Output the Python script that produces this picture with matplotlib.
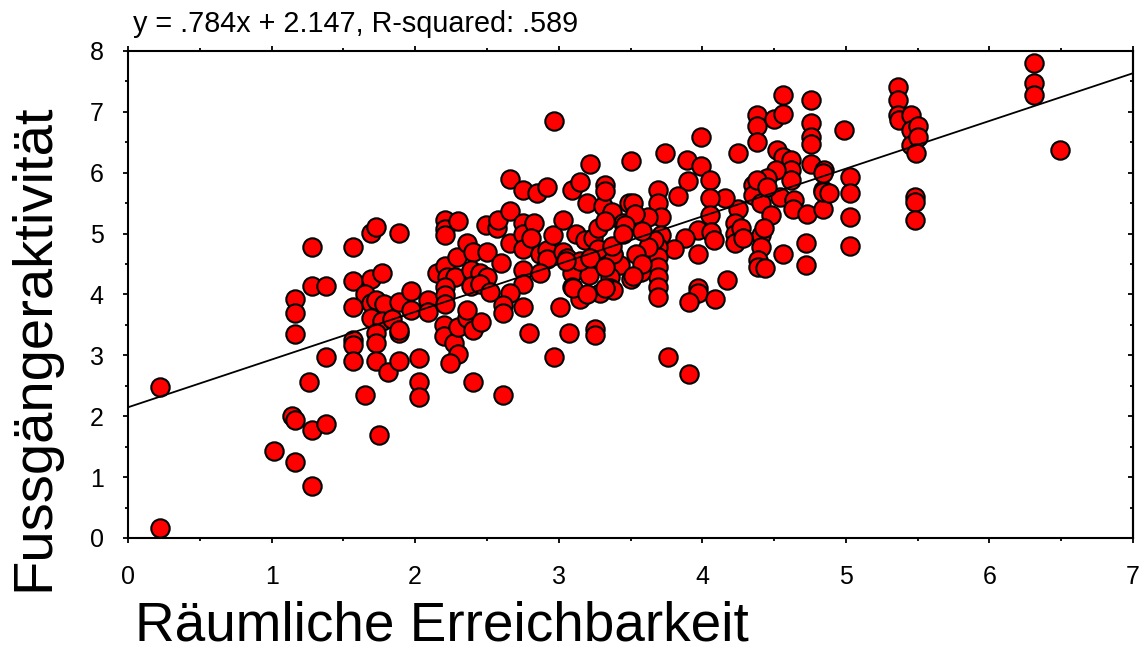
import matplotlib
matplotlib.use("Agg")
import matplotlib.pyplot as plt
import numpy as np

plt.rcParams['font.family'] = ['Liberation Sans', 'DejaVu Sans']

# ---- data ----
x_vals = [
    0.22, 0.22, 1.02, 1.16, 1.16, 1.16, 1.14, 1.16, 1.16, 1.28, 1.28, 1.38, 1.38, 1.26, 1.28, 1.38, 1.28,
    1.57, 1.69, 1.73, 1.885, 1.57, 1.69, 1.77, 1.65, 1.57, 1.69, 1.73, 1.78, 1.69, 1.77, 1.84, 1.89,
    1.73, 1.73, 1.89, 1.57, 1.57, 1.57, 1.73, 1.81, 1.89, 1.65, 1.75, 1.89, 1.97, 1.97, 2.03, 2.03,
    2.03, 2.09, 2.09, 2.21, 2.21, 2.21, 2.30, 2.15, 2.21, 2.22, 2.28, 2.21, 2.21, 2.21, 2.29, 2.36,
    2.40, 2.50, 2.39, 2.45, 2.50, 2.39, 2.45, 2.52, 2.60, 2.49, 2.57, 2.58, 2.66, 2.66, 2.75, 2.85,
    2.92, 2.66, 2.75, 2.75, 2.75, 2.75, 2.75, 2.83, 2.81, 2.66, 2.61, 2.61, 2.75, 2.20, 2.20, 2.27,
    2.30, 2.24, 2.30, 2.36, 2.36, 2.40, 2.46, 2.40, 2.61, 2.79, 2.97, 3.01, 3.07, 3.25, 3.25, 2.87,
    2.92, 2.92, 2.87, 2.96, 3.03, 3.03, 3.06, 3.09, 3.09, 3.15, 3.12, 3.18, 3.21, 3.21, 3.29, 3.24,
    3.38, 3.43, 3.36, 3.36, 3.22, 3.09, 3.15, 3.32, 3.20, 3.31, 3.32, 3.37, 3.45, 3.50, 3.49, 2.97,
    3.74, 3.99, 3.89, 3.99, 4.25, 4.38, 4.38, 4.38, 4.50, 4.56, 4.56, 4.76, 4.76, 4.76, 4.76, 4.76,
    4.52, 4.56, 4.62, 4.62, 4.62, 4.51, 4.45, 4.35, 4.35, 4.41, 4.54, 4.64, 4.63, 4.73, 4.84, 4.84,
    4.85, 4.48, 4.41, 4.41, 4.39, 4.39, 4.44, 4.56, 4.72, 4.72, 4.25, 4.23, 4.23, 4.27, 4.23, 4.28,
    4.16, 4.05, 4.05, 4.05, 3.97, 4.06, 4.08, 3.90, 3.83, 3.97, 3.88, 3.80, 4.17, 3.97, 3.97, 3.91,
    4.09, 3.76, 3.91, 3.69, 3.69, 3.71, 3.71, 3.69, 3.69, 3.69, 3.69, 3.69, 3.69, 3.62, 3.66, 3.62,
    3.54, 3.57, 3.50, 3.52, 3.53, 3.46, 3.38, 3.38, 4.43, 4.38, 4.45, 5.36, 5.36, 5.36, 5.37, 5.45,
    5.45, 5.50, 5.45, 5.50, 5.49, 4.99, 5.03, 5.03, 5.03, 5.03, 5.48, 5.48, 5.48, 4.84, 4.84, 4.88,
    6.31, 6.31, 6.31, 6.49, 3.27, 3.27, 3.15, 3.22, 3.32, 3.32, 3.37, 3.45, 3.58, 3.58, 3.10, 3.20,
    3.32, 3.52, 3.05,
]
y_vals = [
    2.48, 0.16, 1.43, 3.92, 3.69, 3.35, 2.00, 1.94, 1.25, 4.78, 4.14, 4.14, 2.97, 2.56, 1.77, 1.87, 0.86,
    4.78, 5.01, 5.11, 5.01, 4.22, 4.26, 4.36, 4.00, 3.79, 3.86, 3.91, 3.85, 3.62, 3.56, 3.59, 3.88,
    3.37, 3.21, 3.37, 3.26, 3.17, 2.91, 2.91, 2.73, 2.91, 2.35, 1.69, 3.42, 4.06, 3.74, 2.96, 2.57,
    2.31, 3.91, 3.72, 5.22, 5.08, 4.98, 5.20, 4.36, 4.46, 4.29, 4.28, 4.13, 3.99, 3.85, 4.62, 4.84,
    4.70, 4.70, 4.41, 4.35, 4.28, 4.14, 4.18, 4.04, 4.52, 5.14, 5.09, 5.22, 5.37, 5.89, 5.71, 5.67,
    5.77, 4.84, 5.17, 5.00, 4.74, 4.40, 4.18, 5.17, 4.92, 4.02, 3.83, 3.69, 3.80, 3.50, 3.31, 3.20,
    3.03, 2.87, 3.47, 3.61, 3.74, 3.42, 3.55, 2.57, 2.35, 3.36, 2.97, 3.80, 3.36, 3.44, 3.33, 4.67,
    4.73, 4.59, 4.35, 4.98, 5.22, 4.70, 4.60, 4.35, 4.13, 3.92, 5.00, 4.89, 4.43, 4.32, 4.02, 4.92,
    4.65, 4.48, 4.29, 4.10, 6.15, 5.71, 5.85, 5.80, 5.50, 5.45, 5.70, 5.36, 5.17, 6.20, 5.50, 6.85,
    6.33, 6.59, 6.21, 6.11, 6.32, 6.95, 6.77, 6.51, 6.89, 6.97, 7.27, 7.20, 6.81, 6.59, 6.47, 6.15,
    6.37, 6.26, 6.21, 6.04, 5.88, 6.05, 5.91, 5.80, 5.63, 5.50, 5.60, 5.55, 5.41, 5.32, 5.41, 5.71,
    6.04, 5.30, 4.98, 4.78, 4.56, 4.45, 4.43, 4.66, 4.84, 4.48, 5.41, 5.17, 5.00, 5.09, 4.84, 4.92,
    5.58, 5.88, 5.58, 5.30, 5.06, 5.03, 4.89, 5.86, 5.62, 4.66, 4.92, 4.74, 4.24, 4.10, 4.02, 3.88,
    3.92, 2.97, 2.69, 5.71, 5.50, 5.28, 4.98, 4.78, 4.62, 4.45, 4.29, 4.13, 3.96, 5.28, 4.90, 4.78,
    4.67, 4.37, 4.26, 5.50, 5.33, 5.14, 4.67, 4.07, 5.10, 5.88, 5.77, 7.41, 7.20, 6.95, 6.86, 6.95,
    6.71, 6.77, 6.45, 6.58, 6.32, 6.71, 5.93, 5.66, 5.28, 4.79, 5.60, 5.52, 5.23, 5.99, 5.69, 5.66,
    7.80, 7.47, 7.27, 6.37, 5.10, 4.75, 4.55, 4.60, 4.45, 5.20, 4.80, 5.00, 5.05, 4.50, 4.10, 4.00,
    4.10, 4.30, 4.55,
]
slope = 0.784
intercept = 2.147
title_text = "y = .784x + 2.147, R-squared: .589"
x_label = "Räumliche Erreichbarkeit"
y_label = "Fussgängeraktivität"
x_ticks = [0, 1, 2, 3, 4, 5, 6, 7]
y_ticks = [0, 1, 2, 3, 4, 5, 6, 7, 8]

fig = plt.figure(figsize=(11.4, 6.51), dpi=100)
ax = fig.add_axes([0.1123, 0.1736, 0.8816, 0.7481])

ax.scatter(x_vals, y_vals, s=175, facecolor='#ff0000', edgecolor='black',
           linewidth=1.5, zorder=2, clip_on=False)
line_x = np.array([x_ticks[0], x_ticks[-1]])
ax.plot(line_x, slope * line_x + intercept, color='black', linewidth=1.3, zorder=3)

ax.set_xlim(0, 7)
ax.set_ylim(0, 8)
ax.set_xticks(x_ticks)
ax.set_yticks(y_ticks)
ax.set_xticks(np.arange(0.5, 7, 1.0), minor=True)
ax.set_yticks(np.arange(0.5, 8, 1.0), minor=True)

for sp in ax.spines.values():
    sp.set_linewidth(1.5)

ax.tick_params(axis='x', which='both', direction='out', top=True, bottom=True,
               width=1.3, labelsize=18, pad=16)
ax.tick_params(axis='x', which='major', length=3.5)
ax.tick_params(axis='x', which='minor', length=2.2)
ax.tick_params(axis='y', which='both', direction='out', left=True, right=False,
               width=1.3, labelsize=18, pad=14)
ax.tick_params(axis='y', which='major', length=3.5)
ax.tick_params(axis='y', which='minor', length=2.2)

sec = ax.secondary_yaxis('right')
sec.set_yticks(y_ticks)
sec.set_yticks(np.arange(0.5, 8, 1.0), minor=True)
sec.tick_params(axis='y', which='both', direction='in', width=1.3, labelright=False)
sec.tick_params(axis='y', which='major', length=3.5)
sec.tick_params(axis='y', which='minor', length=2.2)
sec.spines['right'].set_linewidth(1.5)

fig.text(0.1167, 0.951, title_text, fontsize=20.7, ha='left', va='baseline')
fig.text(0.1185, 0.0155, x_label, fontsize=39.5, ha='left', va='baseline')
fig.text(0.030, 0.467, y_label, fontsize=40.5, rotation=90, ha='center', va='center')

fig.savefig("out.png", dpi=100)
